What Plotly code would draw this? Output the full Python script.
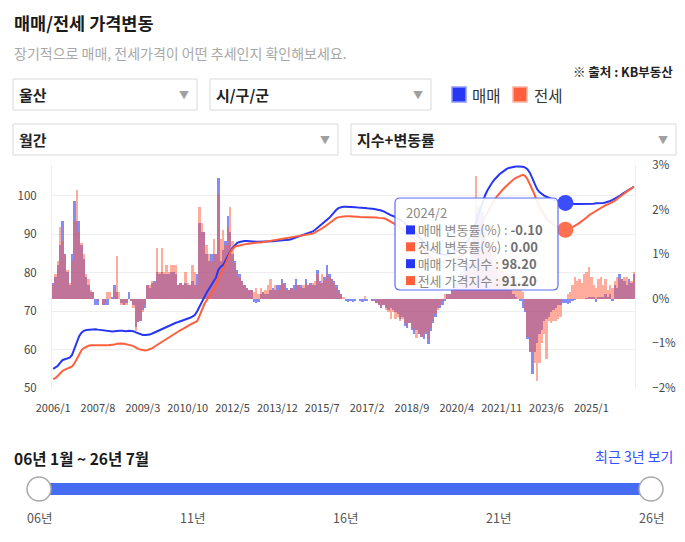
import plotly.graph_objects as go

W, H = 685, 542
FONT = "Noto Sans CJK KR, Noto Sans, sans-serif"

# monthly categories 2006/1 .. 2026/7
months = [f"{y}/{m}" for y in range(2006, 2027) for m in range(1, 13)][:247]
tick_labels = ["2006/1", "2007/8", "2009/3", "2010/10", "2012/5", "2013/12", "2015/7",
               "2017/2", "2018/9", "2020/4", "2021/11", "2023/6", "2025/1"]
left_ticks = [50, 60, 70, 80, 90, 100]
highlight = "2024/2"

# 매매 가격지수
sale_idx = [
    55.0, 55.3, 55.8, 56.6, 57.3, 57.5, 57.7, 57.9, 58.6, 60.2, 62.0, 63.5,
    64.4, 64.9, 65.1, 65.2, 65.2, 65.3, 65.3, 65.2, 65.1, 65.0, 64.9, 64.8,
    64.7, 64.7, 64.8, 64.9, 64.9, 64.9, 64.8, 64.8, 64.9, 64.9, 64.8, 64.5,
    64.2, 63.9, 63.8, 63.8, 63.8, 63.9, 64.2, 64.5, 64.8, 65.1, 65.3, 65.6,
    65.9, 66.2, 66.5, 66.8, 67.0, 67.2, 67.4, 67.6, 67.7, 67.9, 68.3, 68.6,
    69.0, 70.0, 71.2, 72.7, 73.8, 74.8, 75.8, 76.8, 77.8, 78.8, 80.8, 81.6,
    82.0, 83.3, 84.6, 85.5, 86.5, 87.2, 87.8, 88.0, 88.2, 88.3, 88.3, 88.2,
    88.2, 88.1, 88.1, 88.1, 88.1, 88.1, 88.1, 88.1, 88.2, 88.2, 88.3, 88.3,
    88.4, 88.5, 88.5, 88.6, 88.6, 88.8, 89.0, 89.2, 89.4, 89.7, 90.0, 90.2,
    90.4, 90.6, 90.8, 91.2, 91.7, 92.2, 92.7, 93.2, 93.7, 94.3, 95.0, 95.8,
    96.4, 96.9, 97.1, 97.2, 97.2, 97.2, 97.2, 97.1, 97.1, 97.0, 97.0, 96.9,
    96.9, 96.8, 96.8, 96.7, 96.6, 96.5, 96.4, 96.2, 96.0, 95.6, 95.3, 95.0,
    94.8, 94.5, 94.2, 93.8, 93.4, 92.9, 92.4, 91.9, 91.3, 90.7, 90.1, 89.4,
    88.7, 87.9, 87.2, 86.4, 85.8, 85.4, 85.1, 84.9, 84.8, 84.7, 84.7, 84.8,
    84.9, 85.1, 85.4, 85.7, 86.1, 86.6, 87.2, 87.8, 88.5, 89.6, 91.1, 92.9,
    94.8, 96.8, 98.7, 100.2, 101.5, 102.6, 103.5, 104.3, 105.0, 105.6, 106.1, 106.6,
    107.0, 107.3, 107.5, 107.6, 107.7, 107.7, 107.7, 107.6, 107.4, 106.9, 106.0, 104.6,
    103.0, 101.8, 101.0, 100.5, 100.1, 99.8, 99.5, 99.2, 99.0, 98.8, 98.6, 98.4,
    98.3, 98.2, 98.1, 98.0, 98.0, 97.9, 97.9, 97.9, 97.9, 97.9, 97.9, 97.9,
    98.0, 98.0, 98.1, 98.1, 98.2, 98.2, 98.3, 98.4, 98.7, 99.0, 99.3, 99.6,
    100.0, 100.5, 100.9, 101.3, 101.7, 102.1, 102.4,
]

# 전세 가격지수
jeonse_idx = [
    52.3, 52.6, 53.2, 53.9, 54.5, 54.8, 55.0, 55.2, 55.6, 56.4, 57.5, 58.8,
    59.8, 60.4, 60.8, 61.0, 61.1, 61.1, 61.1, 61.1, 61.0, 61.0, 61.0, 61.1,
    61.2, 61.2, 61.3, 61.5, 61.6, 61.6, 61.5, 61.4, 61.3, 61.1, 60.9, 60.5,
    60.2, 60.0, 59.9, 59.8, 59.9, 60.1, 60.4, 60.8, 61.2, 61.7, 62.1, 62.5,
    62.9, 63.3, 63.7, 64.1, 64.5, 64.8, 65.1, 65.4, 65.8, 66.1, 66.4, 66.8,
    67.1, 67.4, 68.8, 70.5, 71.8, 72.8, 73.8, 74.6, 75.5, 76.5, 78.4, 79.6,
    81.0, 82.3, 83.7, 85.3, 86.2, 86.8, 87.0, 87.2, 87.3, 87.4, 87.5, 87.6,
    87.7, 87.8, 87.8, 87.9, 87.9, 88.0, 88.0, 88.1, 88.2, 88.3, 88.4, 88.5,
    88.6, 88.7, 88.8, 88.9, 89.0, 89.1, 89.2, 89.3, 89.4, 89.5, 89.6, 89.7,
    89.8, 90.0, 90.2, 90.5, 90.8, 91.2, 91.6, 92.0, 92.5, 93.0, 93.5, 94.0,
    94.3, 94.5, 94.6, 94.7, 94.7, 94.7, 94.7, 94.6, 94.6, 94.6, 94.5, 94.5,
    94.5, 94.5, 94.5, 94.4, 94.4, 94.4, 94.3, 94.3, 94.2, 94.0, 93.7, 93.4,
    93.0, 92.6, 92.2, 91.8, 91.4, 90.9, 90.4, 89.9, 89.3, 88.7, 87.9, 87.2,
    86.5, 85.8, 85.2, 84.4, 83.9, 83.5, 83.2, 83.0, 82.9, 82.8, 82.9, 83.0,
    83.1, 83.3, 83.5, 83.8, 84.1, 84.5, 85.0, 85.5, 86.1, 86.6, 87.2, 89.6,
    90.7, 91.9, 93.2, 94.5, 95.7, 96.8, 98.0, 99.0, 99.9, 100.7, 101.4, 102.0,
    102.6, 103.2, 103.8, 104.3, 104.7, 105.0, 105.3, 105.5, 105.2, 104.3, 103.0, 101.8,
    100.3, 98.5, 97.1, 96.1, 95.3, 94.0, 93.5, 93.0, 92.5, 92.0, 91.6, 91.2,
    91.2, 91.2, 91.3, 91.5, 91.8, 92.2, 92.6, 93.0, 93.4, 93.9, 94.4, 95.0,
    95.4, 95.7, 96.0, 96.4, 96.9, 97.2, 97.6, 97.8, 98.1, 98.4, 98.8, 99.3,
    99.8, 100.2, 100.7, 101.2, 101.6, 102.0, 102.4,
]

# 매매 변동률(%)
sale_rate = [
    0.35, 0.50, 0.75, 1.20, 1.75, 1.00, 0.60, 0.30, 1.00, 2.20, 1.75, 1.75,
    1.20, 0.90, 0.50, 0.30, 0.15, 0.15, -0.15, -0.15, 0.00, -0.15, -0.15, -0.15,
    0.00, 0.05, 0.30, 0.15, 0.00, -0.10, -0.15, -0.10, 0.15, -0.05, -0.15, -0.64,
    -0.53, -0.50, -0.25, -0.20, 0.30, 0.25, 0.35, 0.40, 0.60, 0.55, 0.60, 0.55,
    0.55, 0.55, 0.60, 0.60, 0.55, 0.30, 0.35, 0.30, 0.35, 0.30, 0.30, 0.40,
    0.30, 0.55, 1.70, 1.50, 1.50, 1.00, 0.85, 1.00, 1.00, 1.00, 2.70, 0.85,
    1.10, 1.30, 1.85, 1.50, 1.00, 0.85, 0.65, 0.55, 0.40, 0.30, 0.25, 0.20,
    0.20, -0.08, -0.10, -0.08, 0.10, 0.15, 0.10, 0.10, 0.20, 0.25, 0.20, 0.30,
    0.30, 0.44, 0.35, 0.25, 0.20, 0.25, 0.30, 0.45, 0.30, 0.30, 0.25, 0.45,
    0.30, 0.35, 0.30, 0.30, 0.65, 0.40, 0.35, 0.50, 0.75, 0.55, 0.45, 0.40,
    0.30, 0.20, 0.10, 0.00, -0.05, -0.08, -0.05, -0.08, -0.05, 0.00, -0.05, -0.08,
    -0.05, -0.05, 0.00, -0.05, -0.05, -0.10, -0.15, -0.20, -0.15, -0.20, -0.25, -0.20,
    -0.25, -0.30, -0.35, -0.45, -0.40, -0.60, -0.65, -0.55, -0.70, -0.79, -0.70, -0.80,
    -0.85, -0.90, -0.80, -1.01, -0.72, -0.55, -0.40, -0.20, -0.20, -0.15, -0.05, 0.10,
    0.10, 0.20, 0.35, 0.35, 0.45, 0.60, 0.70, 0.70, 0.80, 1.25, 1.65, 1.95,
    2.05, 2.10, 1.95, 1.50, 1.30, 1.10, 0.90, 0.75, 0.65, 0.55, 0.45, 0.45,
    0.40, 0.30, 0.20, 0.10, 0.05, 0.00, -0.05, -0.20, -0.30, -0.90, -1.20, -1.68,
    -1.20, -1.00, -0.80, -0.70, -0.50, -0.45, -0.40, -0.30, -0.25, -0.20, -0.15, -0.15,
    -0.10, -0.10, -0.12, -0.10, -0.05, -0.03, 0.00, 0.00, 0.00, 0.00, 0.02, 0.03,
    0.05, 0.03, -0.08, 0.05, 0.05, 0.05, 0.10, 0.05, 0.10, -0.05, 0.30, 0.25,
    0.55, 0.45, 0.40, 0.30, 0.45, 0.35, 0.55,
]

# 전세 변동률(%)
jeonse_rate = [
    0.30, 0.55, 0.85, 1.60, 1.30, 1.00, 0.65, 0.35, 0.85, 1.75, 2.45, 1.50,
    1.25, 1.00, 0.55, 0.45, 0.20, 0.15, 0.00, -0.05, 0.00, -0.15, -0.15, 0.15,
    0.15, 0.00, 0.20, 0.95, 0.15, -0.15, -0.15, -0.15, 0.00, -0.05, -0.20, -0.72,
    -0.53, -0.50, -0.30, -0.15, 0.30, 0.30, 0.40, 0.35, 1.13, 0.60, 1.13, 0.60,
    0.75, 0.60, 0.75, 0.75, 0.75, 0.30, 0.35, 0.30, 0.60, 0.35, 0.30, 0.75,
    0.60, 0.30, 2.05, 1.70, 1.50, 1.20, 1.00, 0.85, 1.35, 1.00, 2.34, 1.35,
    1.55, 1.20, 1.60, 2.05, 1.30, 0.80, 0.60, 0.50, 0.40, 0.30, 0.25, 0.20,
    0.20, 0.15, 0.25, 0.10, 0.25, 0.15, 0.20, 0.30, 0.45, 0.20, 0.30, 0.20,
    0.30, 0.35, 0.30, 0.20, 0.20, 0.25, 0.20, 0.30, 0.30, 0.25, 0.30, 0.35,
    0.30, 0.30, 0.35, 0.40, 0.55, 0.35, 0.55, 0.40, 0.55, 0.50, 0.45, 0.35,
    0.25, 0.15, 0.10, 0.05, 0.00, 0.00, 0.00, 0.00, 0.00, 0.00, 0.00, 0.00,
    0.07, 0.00, 0.00, -0.05, 0.00, -0.10, -0.15, -0.20, -0.15, -0.25, -0.30, -0.45,
    -0.30, -0.45, -0.40, -0.50, -0.45, -0.55, -0.60, -0.55, -0.65, -0.70, -0.87, -0.80,
    -0.85, -0.80, -0.75, -0.90, -0.65, -0.50, -0.35, -0.25, -0.15, -0.05, 0.10, 0.10,
    0.10, 0.20, 0.25, 0.30, 0.35, 0.45, 0.55, 0.60, 0.65, 0.60, 0.70, 2.75,
    1.20, 1.30, 1.40, 1.40, 1.25, 1.15, 1.20, 1.00, 0.90, 0.80, 0.70, 0.60,
    0.60, 0.55, 0.55, 0.50, 0.40, 0.30, 0.25, 0.15, -0.25, -0.85, -1.20, -1.20,
    -1.45, -1.84, -1.45, -1.00, -0.80, -1.35, -0.50, -0.55, -0.50, -0.50, -0.45, -0.40,
    0.00, 0.00, 0.10, 0.15, 0.30, 0.50, 0.40, 0.45, 0.35, 0.55, 0.60, 0.72,
    0.50, 0.30, 0.25, 0.45, 0.50, 0.30, 0.45, 0.20, 0.30, 0.25, 0.40, 0.50,
    0.45, 0.45, 0.50, 0.50, 0.35, 0.40, 0.60,
]

for arr in (sale_idx, jeonse_idx, sale_rate, jeonse_rate):
    assert len(arr) == len(months), len(arr)

slider_labels = ["06년", "11년", "16년", "21년", "26년"]

BLUE = "#2636f2"
ORANGE = "#ff5f3d"

fig = go.Figure()

# rate bars (right axis, drawn under the lines)
fig.add_trace(go.Bar(x=months, y=sale_rate, marker=dict(color="rgba(40,60,240,0.58)", line_width=0),
                     yaxis="y", name="매매 변동률"))
fig.add_trace(go.Bar(x=months, y=jeonse_rate, marker=dict(color="rgba(255,90,60,0.5)", line_width=0),
                     yaxis="y", name="전세 변동률"))
# index lines (left axis)
fig.add_trace(go.Scatter(x=months, y=sale_idx, yaxis="y2", mode="lines",
                         line=dict(color=BLUE, width=2), name="매매 가격지수"))
fig.add_trace(go.Scatter(x=months, y=jeonse_idx, yaxis="y2", mode="lines",
                         line=dict(color=ORANGE, width=2), name="전세 가격지수"))

sel = months.index(highlight)
fig.add_trace(go.Scatter(x=[highlight], y=[sale_idx[sel]], yaxis="y2", mode="markers",
                         marker=dict(size=16, color="#3c4cff"), name=""))
fig.add_trace(go.Scatter(x=[highlight], y=[jeonse_idx[sel]], yaxis="y2", mode="markers",
                         marker=dict(size=16, color="#ff7250"), name=""))


def X(v):
    return v / W


def Y(v):
    return 1 - v / H


def txt(x, y, s, size=13, color="#222", anchor="left", align="left"):
    fig.add_annotation(x=X(x), y=Y(y), xref="paper", yref="paper", text=s, showarrow=False,
                       xanchor=anchor, yanchor="middle", align=align, borderpad=0,
                       font=dict(size=size, color=color, family=FONT))


def rect(x0, y0, x1, y1, fill, line, width=1):
    fig.add_shape(type="rect", xref="paper", yref="paper", x0=X(x0), x1=X(x1), y0=Y(y1), y1=Y(y0),
                  fillcolor=fill, line=dict(color=line, width=width), layer="above")


def circle(cx, cy, r, fill, line, width=1.5):
    fig.add_shape(type="circle", xref="paper", yref="paper", x0=X(cx - r), x1=X(cx + r),
                  y0=Y(cy + r), y1=Y(cy - r), fillcolor=fill, line=dict(color=line, width=width),
                  layer="above")


def rounded(x0, y0, x1, y1, r, fill, line):
    p = (f"M {X(x0 + r)},{Y(y0)} L {X(x1 - r)},{Y(y0)} Q {X(x1)},{Y(y0)} {X(x1)},{Y(y0 + r)} "
         f"L {X(x1)},{Y(y1 - r)} Q {X(x1)},{Y(y1)} {X(x1 - r)},{Y(y1)} "
         f"L {X(x0 + r)},{Y(y1)} Q {X(x0)},{Y(y1)} {X(x0)},{Y(y1 - r)} "
         f"L {X(x0)},{Y(y0 + r)} Q {X(x0)},{Y(y0)} {X(x0 + r)},{Y(y0)} Z")
    fig.add_shape(type="path", xref="paper", yref="paper", path=p, fillcolor=fill,
                  line=dict(color=line, width=1.2), layer="above")


# header
txt(13, 22, "<b>매매/전세 가격변동</b>", size=17.5, color="#1a1a1a")
txt(13, 53, "장기적으로 매매, 전세가격이 어떤 추세인지 확인해보세요.", size=14, color="#a8a8a8")
txt(674, 72, "<b>※ 출처 : KB부동산</b>", size=12.5, color="#222", anchor="right")

# dropdowns
for (x0, y0, x1, y1, label) in [(13, 79, 197, 110, "울산"), (210, 79, 431, 110, "시/구/군"),
                                (13, 124, 338, 155, "월간"), (351, 124, 676, 155, "지수+변동률")]:
    rect(x0, y0, x1, y1, "white", "#d9d9d9")
    txt(x0 + 5, (y0 + y1) / 2, f"<b>{label}</b>", size=15, color="#222")
    txt(x1 - 13, (y0 + y1) / 2, "▼", size=10, color="#a0a0a0", anchor="center")

# legend
rect(452, 87, 466, 102, BLUE, "#8f99ff", 1.5)
txt(471, 95, "매매", size=15.5, color="#333")
rect(513, 87, 527, 102, ORANGE, "#ffb2a0", 1.5)
txt(533, 95, "전세", size=15.5, color="#333")

# tooltip
TIP = 13
rounded(395, 198, 558, 290, 5, "rgba(255,255,255,0.9)", "#5c6cff")
tip_rows = [
    (BLUE, "매매 변동률(%)", sale_rate[sel]),
    (ORANGE, "전세 변동률(%)", jeonse_rate[sel]),
    (BLUE, "매매 가격지수", sale_idx[sel]),
    (ORANGE, "전세 가격지수", jeonse_idx[sel]),
]
lines = [highlight] + [f"    {name} : <b><span style='color:#707070'>{val:.2f}</span></b>"
                       for _, name, val in tip_rows]
step = 1.3 * TIP
txt(405, 213 + 2 * step, "<br>".join(lines), size=TIP, color="#8a8a8a")
for k, (c, _, _) in enumerate(tip_rows):
    yy = 213 + (k + 1) * step
    rect(406, yy - 4.5, 415, yy + 4.5, c, c, 0)

# range slider
txt(13, 458, "<b>06년 1월 ~ 26년 7월</b>", size=15.5, color="#1a1a1a")
txt(674, 456, "최근 3년 보기", size=14, color="#3550ff", anchor="right")
rect(39, 483, 651, 495, "#456cf3", "#456cf3", 0)
circle(39, 489, 12, "white", "#a8a8a8")
circle(651, 489, 12, "white", "#a8a8a8")
for k, lab in enumerate(slider_labels):
    txt(39 + k * (651 - 39) / (len(slider_labels) - 1), 517, lab, size=12.5, color="#555", anchor="center")

fig.update_layout(
    width=W, height=H, margin=dict(l=0, r=0, t=0, b=0, pad=0, autoexpand=False),
    paper_bgcolor="white", plot_bgcolor="white",
    showlegend=False, hovermode=False,
    barmode="overlay", bargap=0,
    font=dict(family=FONT),
    xaxis=dict(domain=[X(52), X(635)], type="category", range=[-0.5, len(months) - 0.5],
               tickmode="array", tickvals=tick_labels, ticktext=tick_labels, automargin=False,
               showgrid=False, zeroline=False, showline=False, ticks="",
               tickfont=dict(size=11, color="#444"), ticklabelstandoff=12, tickangle=0),
    yaxis=dict(domain=[Y(388), Y(165)], range=[-2, 3], side="right", dtick=1, ticksuffix="%",
               showgrid=False, zeroline=False, showline=True, linecolor="#eeeeee", ticks="",
               automargin=False, tickfont=dict(size=11.5, color="#444"), ticklabelstandoff=14),
    yaxis2=dict(overlaying="y", side="left", range=[50, 108.07], tickmode="array", tickvals=left_ticks,
                showgrid=True, gridcolor="#eeeeee", zeroline=False, showline=True, linecolor="#eeeeee",
                automargin=False, ticks="", tickfont=dict(size=11.5, color="#444"), ticklabelstandoff=12),
)

# the page body has a default 8px margin; remove it so the figure sits at the window origin
fig.write_html("out.html", config={"displayModeBar": False},
               post_script="document.body.style.margin='0';")
